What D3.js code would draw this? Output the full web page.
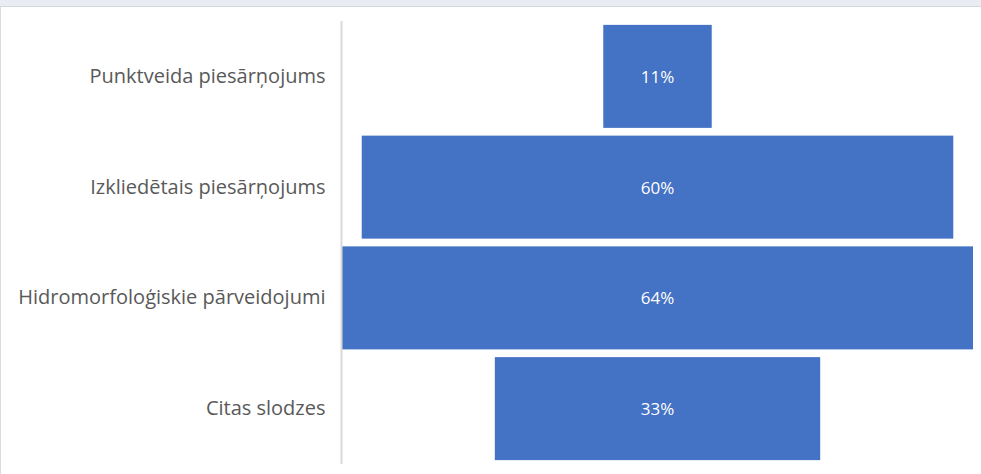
<!DOCTYPE html>
<html>
<head>
<meta charset="utf-8">
<script src="https://cdn.jsdelivr.net/npm/d3@7"></script>
<style>
  html, body { margin: 0; padding: 0; background: #fff; }
  svg { display: block; }
</style>
</head>
<body>
<script>
// funnel data
const categories = [
    'Punktveida piesārņojums',
    'Izkliedētais piesārņojums',
    'Hidromorfoloģiskie pārveidojumi',
    'Citas slodzes'
];
const values = [11, 60, 64, 33];
const valueLabels = ['11%', '60%', '64%', '33%'];

const width = 981;
const height = 474;
const plot = {left: 342, right: 973, top: 21, bottom: 464};
const center = (plot.left + plot.right) / 2;

const svg = d3.select('body').append('svg')
    .attr('width', width)
    .attr('height', height);

// window strip at the top of the screenshot
svg.append('rect').attr('x', 0).attr('y', 0).attr('width', width).attr('height', 7).attr('fill', '#e9ecf3');
svg.append('line').attr('x1', 0).attr('x2', width).attr('y1', 6.5).attr('y2', 6.5).attr('stroke', '#d5d8df');
svg.append('line').attr('x1', 0.5).attr('x2', 0.5).attr('y1', 7).attr('y2', height).attr('stroke', '#dcdcdc');

const y = d3.scaleBand()
    .domain(categories)
    .range([plot.top, plot.bottom])
    .paddingInner(0.07)
    .paddingOuter(0.035);

// bars are centred on the plot
const w = d3.scaleLinear()
    .domain([0, d3.max(values)])
    .range([0, plot.right - plot.left]);

const data = categories.map((c, i) => ({cat: c, value: values[i], label: valueLabels[i]}));

svg.append('g')
    .attr('fill', '#4472c4')
    .selectAll('rect')
    .data(data)
    .join('rect')
        .attr('x', d => center - w(d.value) / 2)
        .attr('y', d => y(d.cat))
        .attr('width', d => w(d.value))
        .attr('height', y.bandwidth());

svg.append('g')
    .selectAll('text')
    .data(data)
    .join('text')
        .attr('x', center)
        .attr('y', d => y(d.cat) + y.bandwidth() / 2)
        .attr('text-anchor', 'middle')
        .attr('dominant-baseline', 'central')
        .attr('fill', '#ffffff')
        .attr('font-family', 'Open Sans, sans-serif')
        .attr('font-size', 17)
        .text(d => d.label);

// category axis
const yAxis = g => g
    .attr('transform', `translate(${plot.left - 0.5}, 0)`)
    .call(d3.axisLeft(y).tickSize(0).tickPadding(16))
    .call(g => g.select('.domain').attr('stroke', '#d9d9d9').attr('stroke-width', 2)
        .attr('d', `M0,${plot.top}V${plot.bottom}`))
    .call(g => g.selectAll('text')
        .attr('fill', '#595959')
        .attr('font-family', 'Open Sans, sans-serif')
        .attr('font-size', 20));

svg.append('g').call(yAxis);
</script>
</body>
</html>
